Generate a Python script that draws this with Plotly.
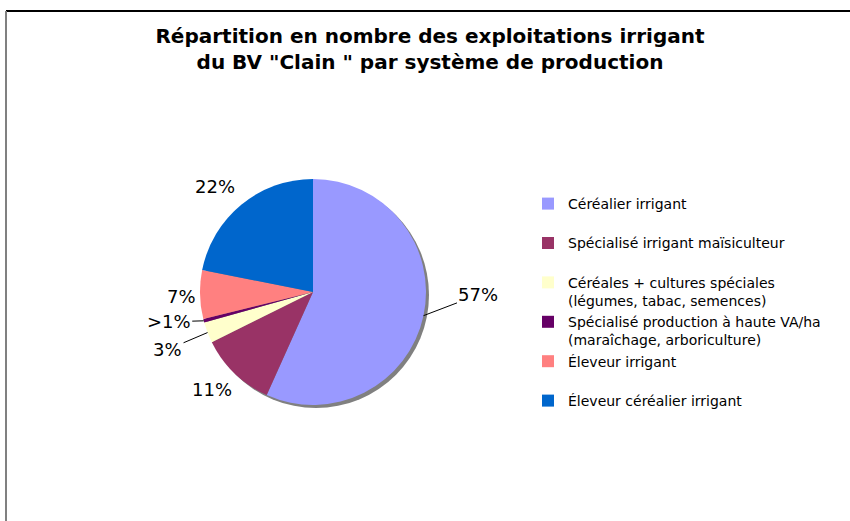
import math
import plotly.graph_objects as go

labels = [
    "Céréalier irrigant",
    "Spécialisé irrigant maïsiculteur",
    "Céréales + cultures spéciales<br>(légumes, tabac, semences)",
    "Spécialisé production à haute VA/ha<br>(maraîchage, arboriculture)",
    "Éleveur irrigant",
    "Éleveur céréalier irrigant",
]
values = [57, 11, 3, 0.5, 7, 22]
pct_text = ["57%", "11%", "3%", ">1%", "7%", "22%"]
colors = ["#9999FF", "#993366", "#FFFFCC", "#660066", "#FF8080", "#0066CC"]

# pixel offsets of each percentage label from its slice edge, and leader lines
label_offsets = [(55, -21), (-23, 16), (-40, 17), (-35, 1), (-19, 2), (-26, -18)]
leader = [True, False, True, True, False, False]

# pad single-line legend entries so every entry takes two lines
legend_labels = [l if "<br>" in l else l + "<br> " for l in labels]

W, H = 850, 521
ml, mt = 6, 11
pw, ph = W - ml, H - mt
cx, cy, r = 313, 292, 113


def dom(cx, cy, r):
    return dict(x=[(cx - r - ml) / pw, (cx + r - ml) / pw],
                y=[(H - cy - r) / ph, (H - cy + r) / ph])


fig = go.Figure()

# drop shadow
fig.add_trace(go.Pie(
    values=[1], labels=["ombre"], showlegend=False, sort=False,
    textinfo="none", hoverinfo="skip",
    marker=dict(colors=["#808080"], line=dict(width=0)),
    domain=dom(cx + 3, cy + 3, r),
))

fig.add_trace(go.Pie(
    labels=legend_labels, values=values, text=pct_text,
    sort=False, direction="clockwise", rotation=0,
    textinfo="none", hovertemplate="%{label}: %{text}<extra></extra>",
    marker=dict(colors=colors, line=dict(width=0)),
    domain=dom(cx, cy, r),
))

# percentage labels placed at the slice mid-angle edge
total = sum(values)
cum = 0
for v, t, (dx, dy), ld in zip(values, pct_text, label_offsets, leader):
    theta = 2 * math.pi * (cum + v / 2) / total
    cum += v
    ex = cx + r * math.sin(theta)
    ey = cy - r * math.cos(theta)
    px_, py_ = (ex - ml) / pw, (H - ey) / ph
    a = dict(xref="paper", yref="paper", x=px_, y=py_, text=t,
             xanchor="center", yanchor="middle",
             font=dict(size=18, family="DejaVu Sans", color="black"))
    if ld:
        a.update(showarrow=True, arrowhead=0, arrowwidth=1, arrowcolor="black",
                 ax=dx, ay=dy, standoff=0)
    else:
        a.update(showarrow=False, xshift=dx, yshift=-dy)
    fig.add_annotation(**a)

fig.update_layout(
    width=W, height=H,
    margin=dict(l=ml, r=0, t=mt, b=0),
    paper_bgcolor="white", plot_bgcolor="white",
    font=dict(family="DejaVu Sans", color="black"),
    title=dict(
        text="<b>Répartition en nombre des exploitations irrigant<br>du BV \"Clain \" par système de production</b>",
        x=(430) / W, xanchor="center", y=1 - 42.5 / H, yanchor="middle",
        font=dict(size=20, family="DejaVu Sans", color="black"),
    ),
    legend=dict(
        x=(528 - ml) / pw, xanchor="left",
        y=(H - 188) / ph, yanchor="top",
        font=dict(size=14, family="DejaVu Sans", color="black"),
        valign="top", itemwidth=30,
        bgcolor="rgba(0,0,0,0)",
    ),
    shapes=[
        dict(type="line", xref="paper", yref="paper", x0=0, x1=1.01, y0=1, y1=1,
             line=dict(color="black", width=2)),
        dict(type="line", xref="paper", yref="paper", x0=0, x1=0, y0=1, y1=-0.05,
             line=dict(color="#808080", width=2)),
    ],
)

fig.write_html("out.html", config={"displayModeBar": False},
               post_script="document.body.style.margin='0px';")
